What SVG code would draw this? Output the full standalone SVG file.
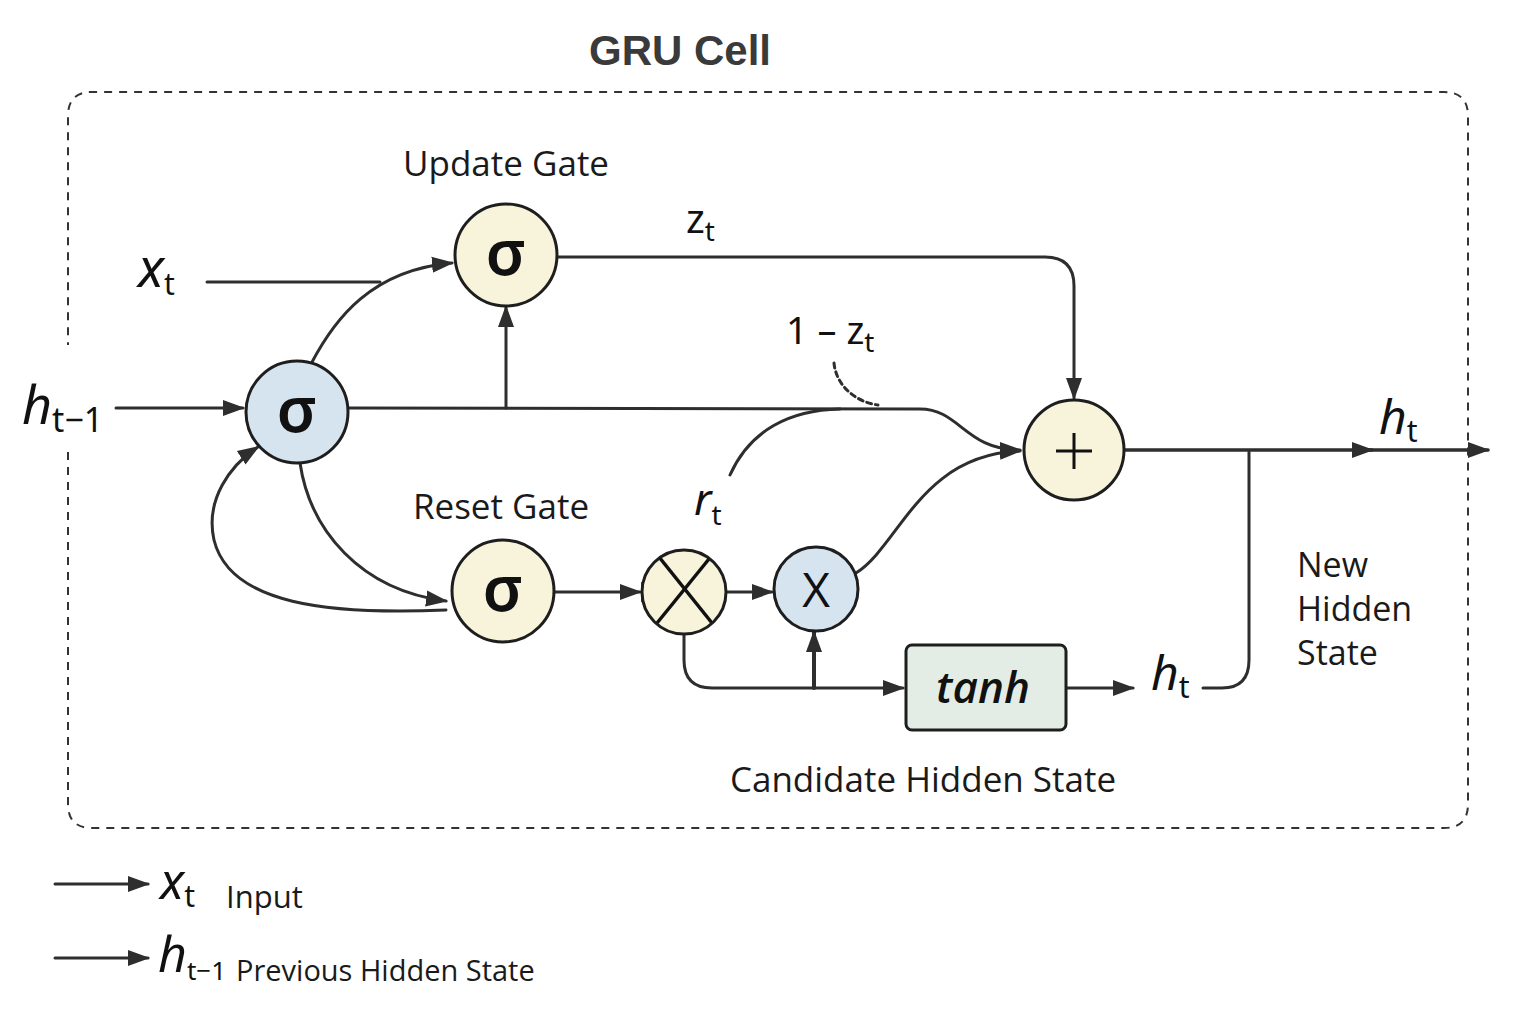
<svg xmlns="http://www.w3.org/2000/svg" width="1536" height="1024" viewBox="0 0 1536 1024">
<style>
.ln{fill:none;stroke:#2e2e2e;stroke-width:3;stroke-linecap:round}
.nd{stroke:#1e1e1e;stroke-width:3}
.yel{fill:#f8f4dc}
.blu{fill:#d6e4f0}
.lbl{font-family:"Open Sans","Noto Sans",sans-serif;font-size:35px;fill:#1a1a1a}
.m{font-family:"Noto Sans","Open Sans",sans-serif;fill:#111}
.mi{font-style:italic}
.sig{font-family:"Noto Sans","DejaVu Sans",sans-serif;font-weight:600;font-size:64px;fill:#111;text-anchor:middle}
</style>
<defs>
<marker id="ah" markerUnits="userSpaceOnUse" markerWidth="22" markerHeight="18" viewBox="0 0 22 18" refX="20" refY="9" orient="auto">
<path d="M0 1 L22 9 L0 17 Z" fill="#2e2e2e"/>
</marker>
<clipPath id="cc"><circle cx="684" cy="592" r="41"/></clipPath>
</defs>
<rect width="1536" height="1024" fill="#fff"/>
<text x="680" y="65" text-anchor="middle" font-family="Liberation Sans,Arial,sans-serif" font-weight="bold" font-size="42" fill="#3a3a3a">GRU Cell</text>
<path d="M68 452 V804 Q68 828 92 828 H1444 Q1468 828 1468 804 V116 Q1468 92 1444 92 H92 Q68 92 68 116 V345" fill="none" stroke="#333" stroke-width="2" stroke-dasharray="8 7"/>

<g id="connectors">
<path class="ln" d="M116 408 H243" marker-end="url(#ah)"/>
<path class="ln" d="M207 282 H380"/>
<path class="ln" d="M311 364 C335 318 372 270 452 263" marker-end="url(#ah)"/>
<path class="ln" d="M349 408 L920 409 C960 409 965 450 1020 450" marker-end="url(#ah)"/>
<path class="ln" d="M506 408 V307" marker-end="url(#ah)"/>
<path class="ln" d="M730 475 C750 430 790 410 840 409"/>
<path class="ln" d="M834 363 C836 385 855 402 878 405" stroke-width="1.8" stroke-dasharray="5 4"/>
<path class="ln" d="M558 257 H1045 Q1074 257 1074 286 V398" marker-end="url(#ah)"/>
<path class="ln" d="M856 573 C900 545 920 455 1020 451" marker-end="url(#ah)"/>
<path class="ln" d="M300 463 C310 530 360 590 446 601" marker-end="url(#ah)"/>
<path class="ln" d="M446 610 C330 615 230 605 214 540 C205 500 230 465 258 447" marker-end="url(#ah)"/>
<path class="ln" d="M555 592 H640" marker-end="url(#ah)"/>
<path d="M642 582 V602" stroke="#2e2e2e" stroke-width="1.5"/>
<path class="ln" d="M727 592 H772" marker-end="url(#ah)"/>
<path class="ln" d="M684 634 V660 Q684 688 712 688 H903" marker-end="url(#ah)"/>
<path class="ln" d="M814 688 V632" marker-end="url(#ah)" style="stroke-width:4"/>
<path class="ln" d="M1066 688 H1133" marker-end="url(#ah)"/>
<path class="ln" d="M1203 688 H1222 Q1249 688 1249 660 V452"/>
<path class="ln" d="M1124 450 H1372" marker-end="url(#ah)" style="stroke-width:3.5"/>
<path class="ln" d="M1368 450 H1488" marker-end="url(#ah)" style="stroke-width:3.5"/>
<path class="ln" d="M55 884 H148" marker-end="url(#ah)"/>
<path class="ln" d="M55 958 H148" marker-end="url(#ah)"/>
</g>

<g id="sigma-main"><circle class="nd blu" cx="297" cy="412" r="51"/><text class="sig" x="297" y="432">σ</text></g>
<g id="update-gate"><circle class="nd yel" cx="506" cy="255" r="51"/><text class="sig" x="506" y="275">σ</text></g>
<g id="reset-gate"><circle class="nd yel" cx="503" cy="591" r="51"/><text class="sig" x="503" y="611">σ</text></g>
<g id="cross-node"><circle class="nd yel" cx="684" cy="592" r="42"/>
<g clip-path="url(#cc)" stroke="#111" stroke-width="3.5"><line x1="655" y1="552" x2="716" y2="628"/><line x1="713" y1="554" x2="653" y2="628"/></g></g>
<g id="mul-node"><circle class="nd blu" cx="816" cy="589" r="42"/><text x="816" y="607" text-anchor="middle" font-family="Open Sans,sans-serif" font-size="48" fill="#111">X</text></g>
<g id="plus-node"><circle class="nd yel" cx="1074" cy="450" r="50"/><path d="M1056 451 H1092 M1074 433 V469" stroke="#111" stroke-width="3"/></g>
<g id="tanh-box"><rect x="906" y="645" width="160" height="85" rx="6" fill="#e3ede6" stroke="#1e1e1e" stroke-width="3"/><text x="983" y="703" text-anchor="middle" font-family="Open Sans,sans-serif" font-style="italic" font-weight="600" font-size="44" fill="#111">tanh</text></g>

<g id="labels">
<text class="lbl" x="506" y="176" text-anchor="middle">Update Gate</text>
<text class="lbl" x="501" y="519" text-anchor="middle">Reset Gate</text>
<text class="lbl" x="923" y="792" text-anchor="middle">Candidate Hidden State</text>
<text class="lbl" x="1297" y="577" style="font-size:34px">New</text>
<text class="lbl" x="1297" y="621" style="font-size:34px">Hidden</text>
<text class="lbl" x="1297" y="665" style="font-size:34px">State</text>
<text class="m" x="138" y="287"><tspan class="mi" font-size="54">x</tspan><tspan font-size="30" dy="8">t</tspan></text>
<text class="m" x="22" y="424"><tspan class="mi" font-size="52">h</tspan><tspan font-size="34" dy="8">t−1</tspan></text>
<text class="m" x="686" y="233"><tspan font-size="40">z</tspan><tspan font-size="28" dy="8">t</tspan></text>
<text class="m" x="786" y="344"><tspan font-size="38">1 – z</tspan><tspan font-size="28" dy="8">t</tspan></text>
<text class="m" x="694" y="515"><tspan class="mi" font-size="44">r</tspan><tspan font-size="28" dy="10">t</tspan></text>
<text class="m" x="1379" y="434"><tspan class="mi" font-size="48">h</tspan><tspan font-size="30" dy="8">t</tspan></text>
<text class="m" x="1151" y="690"><tspan class="mi" font-size="48">h</tspan><tspan font-size="30" dy="8">t</tspan></text>
<text class="m" x="160" y="899"><tspan class="mi" font-size="50">x</tspan><tspan font-size="30" dy="8">t</tspan></text>
<text class="lbl" x="226" y="908" style="font-size:31px">Input</text>
<text class="m" x="158" y="972"><tspan class="mi" font-size="50">h</tspan><tspan font-size="26" dy="8">t−1</tspan></text>
<text class="lbl" x="236" y="981" style="font-size:29px">Previous Hidden State</text>
</g>
</svg>
